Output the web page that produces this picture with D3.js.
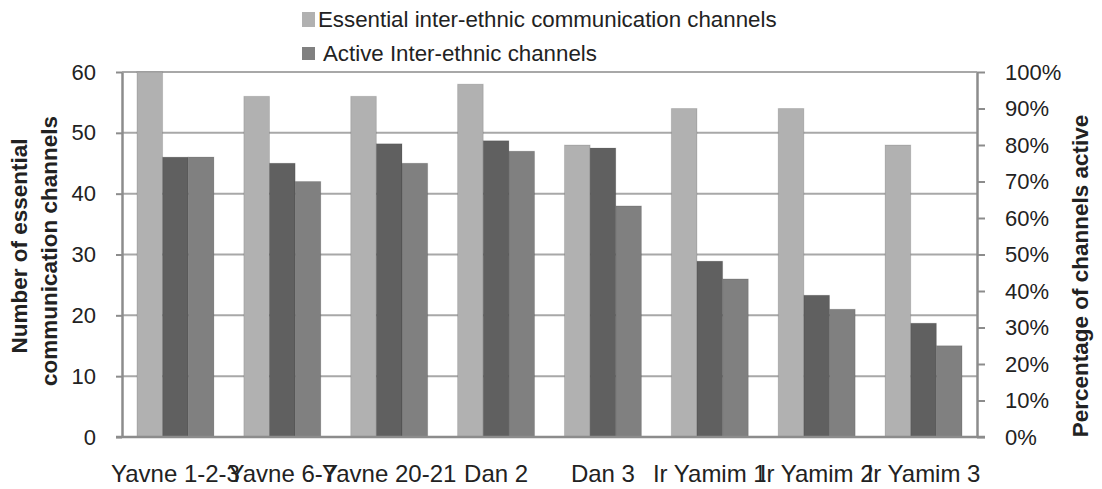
<!DOCTYPE html>
<html>
<head>
<meta charset="utf-8">
<script src="https://cdn.jsdelivr.net/npm/d3@7"></script>
<style>
  html, body { margin: 0; padding: 0; background: #fff; }
  svg { display: block; font-family: "Liberation Sans", Arial, sans-serif; }
</style>
</head>
<body>
<svg id="chart" width="1102" height="489"></svg>
<script>
// ---- data ----
const categories = ["Yavne 1-2-3", "Yavne 6-7", "Yavne 20-21", "Dan 2", "Dan 3", "Ir Yamim 1", "Ir Yamim 2", "Ir Yamim 3"];
const essentialChannels = [60, 56, 56, 58, 48, 54, 54, 48];
const activeChannels = [46, 45, 48.2, 48.7, 47.5, 28.9, 23.3, 18.7];
const percentActive = [0.767, 0.70, 0.75, 0.783, 0.633, 0.433, 0.35, 0.25];
const leftTicks = [0, 10, 20, 30, 40, 50, 60];
const rightTicks = [0, 0.1, 0.2, 0.3, 0.4, 0.5, 0.6, 0.7, 0.8, 0.9, 1.0];
const legendLabels = ["Essential inter-ethnic communication channels", "Active Inter-ethnic channels"];

// ---- styles ----
const cLight = "#b1b1b1", cDark = "#606060", cMid = "#808080";
const axisColor = "#8c8c8c", gridColor = "#a8a8a8", textColor = "#222";

const svg = d3.select("#chart");
const pL = 122, pR = 977, pT = 72, pB = 437;

const x = d3.scaleBand().domain(categories).range([pL, pR]).paddingInner(0.28).paddingOuter(0.14);
const xs = d3.scaleBand().domain([0, 1, 2]).range([0, x.bandwidth()]);
const yL = d3.scaleLinear().domain([0, 60]).range([pB, pT]);
const yR = d3.scaleLinear().domain([0, 1]).range([pB, pT]);

// gridlines
svg.append("g").selectAll("line").data(leftTicks.filter(d => d > 0)).join("line")
  .attr("x1", pL).attr("x2", pR)
  .attr("y1", d => yL(d)).attr("y2", d => yL(d))
  .attr("stroke", gridColor).attr("stroke-width", 2);

// bars
const series = [
  { vals: essentialChannels, scale: yL, color: cLight },
  { vals: activeChannels, scale: yL, color: cDark },
  { vals: percentActive, scale: yR, color: cMid }
];
series.forEach((s, si) => {
  svg.append("g").selectAll("rect").data(categories).join("rect")
    .attr("x", (c) => x(c) + xs(si))
    .attr("width", xs.bandwidth())
    .attr("y", (c, i) => s.scale(s.vals[i]))
    .attr("height", (c, i) => pB - s.scale(s.vals[i]))
    .attr("fill", s.color)
    .attr("stroke", "rgba(0,0,0,0.12)").attr("stroke-width", 1);
});

// left axis
const gL = svg.append("g").attr("transform", `translate(${pL},0)`)
  .call(d3.axisLeft(yL).tickValues(leftTicks).tickSize(6).tickPadding(20).tickSizeOuter(0));
gL.select(".domain").attr("stroke", axisColor).attr("stroke-width", 2.5);
gL.selectAll(".tick line").attr("stroke", axisColor).attr("stroke-width", 2);
gL.selectAll(".tick text").attr("fill", textColor).style("font-size", "22px");

// right axis
const gR = svg.append("g").attr("transform", `translate(${pR},0)`)
  .call(d3.axisRight(yR).tickValues(rightTicks).tickSize(8).tickPadding(20).tickSizeOuter(0).tickFormat(d3.format(".0%")));
gR.select(".domain").attr("stroke", axisColor).attr("stroke-width", 2.5);
gR.selectAll(".tick line").attr("stroke", axisColor).attr("stroke-width", 2);
gR.selectAll(".tick text").attr("fill", textColor).style("font-size", "22px");

// bottom axis
const gB = svg.append("g").attr("transform", `translate(0,${pB})`)
  .call(d3.axisBottom(x).tickSize(0).tickPadding(0).tickSizeOuter(0));
gB.select(".domain").remove();
svg.append("line").attr("x1", pL - 6).attr("x2", pR + 8).attr("y1", pB).attr("y2", pB)
  .attr("stroke", axisColor).attr("stroke-width", 2.5);
gB.selectAll(".tick text").attr("fill", textColor).style("font-size", "24px")
  .attr("y", 45).attr("dy", 0);

// axis titles
const lt = svg.append("g").attr("fill", textColor).style("font-weight", "bold").style("font-size", "22.5px");
lt.append("text").attr("text-anchor", "middle").attr("transform", "translate(27,246) rotate(-90)").text("Number of essential");
lt.append("text").attr("text-anchor", "middle").attr("transform", "translate(57,251) rotate(-90)").text("communication channels");
svg.append("text").attr("fill", textColor).style("font-weight", "bold").style("font-size", "22.5px")
  .attr("text-anchor", "middle").attr("transform", "translate(1088,276) rotate(-90)").text("Percentage of channels active");

// legend
const legendColors = [cLight, cMid];
const lg = svg.append("g");
legendLabels.forEach((t, i) => {
  lg.append("rect").attr("x", 302).attr("y", i === 0 ? 12 : 47).attr("width", 13).attr("height", i === 0 ? 15 : 13)
    .attr("fill", legendColors[i]);
  lg.append("text").attr("x", i === 0 ? 318 : 323).attr("y", i === 0 ? 27 : 61)
    .attr("fill", textColor).style("font-size", "22.3px").text(t);
});
</script>
</body>
</html>
